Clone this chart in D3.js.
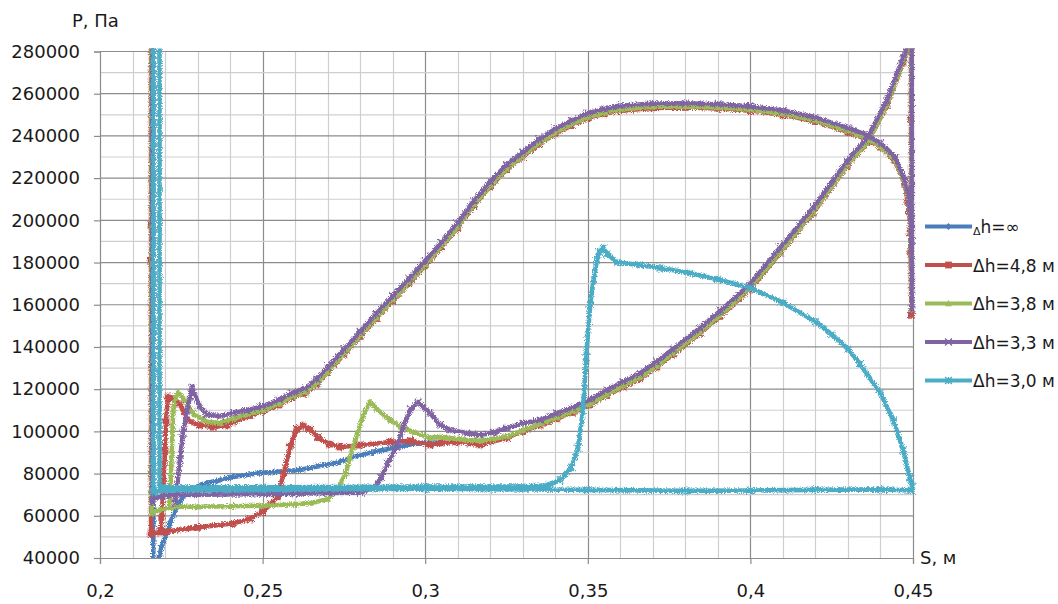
<!DOCTYPE html>
<html>
<head>
<meta charset="utf-8">
<script src="https://cdn.jsdelivr.net/npm/d3@7"></script>
<style>
  html, body { margin: 0; padding: 0; background: #fff; }
  svg { display: block; font-family: "DejaVu Sans", sans-serif; }
</style>
</head>
<body>
<svg id="chart" width="1058" height="604"></svg>
<script>
// Pressure P (Pa) versus piston travel S (m) for several head differences Δh.
// Each series is a list of [S, P] readings taken along the stroke.

const seriesNames = ["\u0394h=\u221e", "\u0394h=4,8 \u043c", "\u0394h=3,8 \u043c", "\u0394h=3,3 \u043c", "\u0394h=3,0 \u043c"];

const xTicks = [0.2, 0.25, 0.3, 0.35, 0.4, 0.45];
const xTickLabels = ["0,2", "0,25", "0,3", "0,35", "0,4", "0,45"];
const yTicks = [40000, 60000, 80000, 100000, 120000, 140000, 160000, 180000, 200000, 220000, 240000, 260000, 280000];

const dhInf = [
  [0.2164, 300000], [0.2164, 36000], [0.2178, 37000], [0.2183, 41000], [0.219, 46000],
  [0.2205, 52000], [0.2215, 56600], [0.2237, 64200], [0.2268, 72200], [0.2329, 75500],
  [0.2409, 78400], [0.2492, 80300], [0.2615, 81700], [0.2738, 85500], [0.2769, 87500],
  [0.284, 90200], [0.2943, 93600], [0.2994, 94500], [0.305, 94800]
];

const dh48 = [
  [0.2157, 300000], [0.2157, 197800], [0.2157, 181200], [0.2157, 51500],
  [0.2185, 52300], [0.2206, 52500], [0.23, 54500], [0.241, 56400], [0.246, 58500],
  [0.25, 62000], [0.2525, 65500], [0.2545, 69000], [0.2565, 80000], [0.2585, 93000],
  [0.2605, 101000], [0.2625, 102500], [0.2645, 101000], [0.267, 97000], [0.2705, 94000],
  [0.2738, 92600], [0.28, 93500], [0.2892, 95000], [0.2955, 95500], [0.3015, 93600],
  [0.305, 94500], [0.3098, 95000], [0.314, 94500], [0.3168, 93600], [0.3251, 96900],
  [0.33, 100000],
  [0.3353, 103000], [0.3405, 106000], [0.3455, 109000], [0.3507, 112500], [0.3558, 117000],
  [0.3608, 121000], [0.366, 125000], [0.3712, 130500], [0.3762, 136500], [0.3845, 146500],
  [0.3907, 154500], [0.4, 167500], [0.4091, 184500], [0.4193, 203500], [0.4297, 225500],
  [0.4361, 237000], [0.442, 254500], [0.4469, 274500], [0.4485, 282000],
  [0.4494, 282000], [0.4494, 248000], [0.4495, 155000],
  [0.4493, 184500], [0.4491, 194000], [0.4489, 204000], [0.4484, 208500], [0.4475, 217000],
  [0.4445, 228000], [0.44, 234700], [0.4358, 238500], [0.43, 241800], [0.42, 246800],
  [0.41, 250000], [0.40, 252000], [0.39, 253000], [0.38, 253500], [0.37, 253300],
  [0.36, 252000], [0.355, 250500], [0.35, 248500], [0.345, 245000], [0.34, 241000],
  [0.335, 236000], [0.33, 230000], [0.325, 224000], [0.32, 216000], [0.315, 207000],
  [0.31, 196500], [0.305, 187500], [0.30, 178500], [0.295, 170000], [0.29, 162000],
  [0.285, 153500], [0.28, 145000], [0.275, 136500], [0.27, 128000], [0.2667, 122500],
  [0.263, 118000], [0.259, 116000], [0.255, 112500], [0.25, 109500], [0.2461, 107500],
  [0.241, 104500], [0.239, 103000], [0.2348, 102000], [0.2305, 103000], [0.2267, 105400],
  [0.2246, 113000], [0.2225, 115500], [0.2209, 116300], [0.2203, 105000], [0.22, 91000],
  [0.219, 59400], [0.2187, 53000]
];

const dh38 = [
  [0.2159, 300000], [0.2159, 61300], [0.2185, 63000], [0.2225, 64200], [0.23, 64300],
  [0.24, 64500], [0.25, 64800], [0.26, 65500], [0.265, 66000], [0.27, 68000],
  [0.2729, 72200], [0.2755, 80000], [0.2778, 92600], [0.281, 108000], [0.283, 114000],
  [0.2855, 110000], [0.2892, 105400], [0.2925, 102000], [0.2963, 99700], [0.3015, 96900],
  [0.304, 97400], [0.3076, 96800], [0.312, 96000], [0.3168, 95500], [0.321, 96500],
  [0.3251, 97500], [0.33, 100500],
  [0.3353, 103500], [0.3405, 106500], [0.3455, 109500], [0.3507, 113000], [0.3558, 117500],
  [0.3608, 121500], [0.366, 125500], [0.3712, 131000], [0.3762, 137000], [0.3845, 147000],
  [0.3907, 155000], [0.4, 168000], [0.4091, 185000], [0.4193, 204000], [0.4297, 226000],
  [0.4361, 237500], [0.442, 255000], [0.4469, 275000], [0.4486, 283000],
  [0.4495, 283000], [0.4496, 158000], [0.4494, 188000], [0.4489, 208000], [0.4475, 217500],
  [0.4445, 228500], [0.44, 235000], [0.4358, 239000], [0.43, 242300], [0.42, 247300],
  [0.41, 250500], [0.40, 252500], [0.39, 253500], [0.38, 254000], [0.37, 253800],
  [0.36, 252500], [0.355, 251000], [0.35, 249000], [0.345, 245500], [0.34, 241500],
  [0.335, 236500], [0.33, 230500], [0.325, 224500], [0.32, 216500], [0.315, 207500],
  [0.31, 197000], [0.305, 188000], [0.30, 179000], [0.295, 170500], [0.29, 162500],
  [0.285, 154000], [0.28, 145500], [0.275, 137000], [0.27, 128500], [0.2667, 123000],
  [0.263, 118500], [0.259, 116500], [0.255, 113000], [0.25, 110000], [0.245, 108000],
  [0.241, 106000], [0.237, 104000], [0.2329, 104500], [0.229, 108000], [0.226, 115000],
  [0.224, 118500], [0.2232, 116000], [0.2225, 110000], [0.2221, 91000], [0.2215, 67500],
  [0.2212, 64000]
];

const dh33 = [
  [0.2161, 300000], [0.2161, 66500], [0.218, 69000], [0.222, 69800], [0.23, 70000],
  [0.25, 70300], [0.26, 70500], [0.27, 70800], [0.28, 71000], [0.284, 73000],
  [0.2865, 78000], [0.2885, 85000], [0.2912, 92600], [0.2935, 103000], [0.2955, 110500],
  [0.2978, 113900], [0.3015, 108700], [0.3045, 103000], [0.3076, 100700], [0.3128, 99200],
  [0.3168, 98300], [0.321, 99500], [0.3251, 101500], [0.3301, 103800],
  [0.3353, 105400], [0.3405, 108500], [0.3455, 111500], [0.3507, 115000], [0.3558, 119500],
  [0.3608, 123500], [0.366, 127500], [0.3712, 133000], [0.3762, 139000], [0.3845, 149000],
  [0.3907, 157000], [0.4, 170000], [0.4091, 187000], [0.4193, 206000], [0.4297, 228000],
  [0.4361, 239500], [0.442, 257000], [0.4469, 277000], [0.4488, 285000],
  [0.4496, 285000], [0.4497, 158000], [0.4495, 190000], [0.4489, 210000], [0.4475, 219000],
  [0.4445, 230000], [0.44, 236700], [0.4358, 240500], [0.43, 243800], [0.42, 248800],
  [0.41, 252000], [0.40, 254000], [0.39, 255000], [0.38, 255500], [0.37, 255300],
  [0.36, 254300], [0.355, 252800], [0.35, 250800], [0.345, 247300], [0.34, 243300],
  [0.335, 238300], [0.33, 232300], [0.325, 226300], [0.32, 218300], [0.315, 209300],
  [0.31, 198800], [0.305, 189500], [0.30, 180800], [0.295, 172300], [0.29, 164300],
  [0.285, 155800], [0.28, 147300], [0.275, 138800], [0.27, 130300], [0.2667, 124800],
  [0.263, 120300], [0.259, 118200], [0.255, 114800], [0.25, 111800], [0.245, 110000],
  [0.241, 108700], [0.237, 107200], [0.2329, 108000], [0.2305, 112000], [0.2283, 121000],
  [0.2268, 110000], [0.2255, 99200], [0.2246, 86400], [0.2231, 66000]
];

const dh30 = [
  [0.2164, 300000], [0.2164, 71000], [0.217, 71500], [0.22, 72000], [0.25, 72300],
  [0.3, 72800], [0.35, 72300], [0.38, 71800], [0.4, 72000], [0.42, 72300], [0.44, 72500],
  [0.4495, 72000],
  [0.4497, 74000], [0.449, 78000], [0.447, 91000], [0.444, 105000], [0.44, 118000],
  [0.4337, 132000], [0.43, 139000], [0.425, 146000], [0.42, 152000], [0.41, 161000],
  [0.4, 168000], [0.39, 172000], [0.3814, 175000], [0.3722, 177400], [0.366, 178900],
  [0.359, 180000], [0.356, 184000], [0.3548, 186800], [0.3535, 185000], [0.3528, 181000],
  [0.3518, 172000], [0.3507, 160000], [0.3495, 135000], [0.3485, 110000], [0.347, 92000],
  [0.345, 83000], [0.3415, 77000], [0.338, 74500], [0.33, 73800], [0.3, 73800],
  [0.25, 73500], [0.22, 73500], [0.2183, 73500], [0.2183, 300000]
];

const seriesData = [dhInf, dh48, dh38, dh33, dh30];
const colors = ["#4a7ebb", "#c0504d", "#9bbb59", "#8064a2", "#4bacc6"];
const markerShapes = ["diamond", "square", "triangle", "cross", "asterisk"];

const svg = d3.select("#chart");
const plotL = 100, plotR = 913, plotT = 51.5, plotB = 558;

const x = d3.scaleLinear().domain([0.2, 0.45]).range([plotL, plotR]);
const y = d3.scaleLinear().domain([40000, 280000]).range([plotB, plotT]);

// grid: minor every 0.01 / 10000, major every 0.05 / 20000
const grid = svg.append("g");
d3.range(0.21, 0.4501, 0.01).forEach(v => {
  const major = Math.abs(v / 0.05 - Math.round(v / 0.05)) < 1e-6;
  grid.append("line")
    .attr("x1", Math.round(x(v)) + 0.5).attr("x2", Math.round(x(v)) + 0.5)
    .attr("y1", plotT).attr("y2", plotB)
    .attr("stroke", major ? "#8c8c8c" : "#cfcfcf").attr("stroke-width", 1.2);
});
d3.range(50000, 280001, 10000).forEach(v => {
  const major = v % 20000 === 0;
  grid.append("line")
    .attr("x1", plotL).attr("x2", plotR)
    .attr("y1", y(v)).attr("y2", y(v))
    .attr("stroke", major ? "#8c8c8c" : "#cfcfcf").attr("stroke-width", 1.2);
});

// axes
const yAxis = d3.axisLeft(y).tickValues(yTicks).tickSize(6).tickPadding(14)
  .tickFormat(d => String(d));
const gy = svg.append("g").attr("transform", `translate(${plotL},0)`).call(yAxis);
gy.select(".domain").attr("stroke", "#8c8c8c").attr("stroke-width", 1.2);
gy.selectAll(".tick line").attr("stroke", "#8c8c8c").attr("stroke-width", 1.2);
gy.selectAll(".tick text").attr("font-size", 18).attr("fill", "#1a1a1a")
  .attr("font-family", "DejaVu Sans, sans-serif");

const xAxis = d3.axisBottom(x).tickValues(xTicks).tickSize(6).tickPadding(20)
  .tickFormat((d, i) => xTickLabels[i]);
const gx = svg.append("g").attr("transform", `translate(0,${plotB})`).call(xAxis);
gx.select(".domain").attr("stroke", "#8c8c8c").attr("stroke-width", 1.2);
gx.selectAll(".tick line").attr("stroke", "#8c8c8c").attr("stroke-width", 1.2);
gx.selectAll(".tick text").attr("font-size", 18).attr("fill", "#1a1a1a")
  .attr("font-family", "DejaVu Sans, sans-serif");

// axis titles
svg.append("text").attr("x", 72).attr("y", 27).attr("font-size", 18).attr("fill", "#1a1a1a")
  .text("P, \u041f\u0430");
svg.append("text").attr("x", 920).attr("y", 564).attr("font-size", 18).attr("fill", "#1a1a1a")
  .text("S, \u043c");

// marker drawing
function marker(g, shape, color, cx, cy) {
  const s = 3.4;
  if (shape === "diamond") {
    g.append("path").attr("d", `M${cx},${cy - s}L${cx + s},${cy}L${cx},${cy + s}L${cx - s},${cy}Z`).attr("fill", color);
  } else if (shape === "square") {
    g.append("rect").attr("x", cx - s).attr("y", cy - s).attr("width", 2 * s).attr("height", 2 * s).attr("fill", color);
  } else if (shape === "triangle") {
    g.append("path").attr("d", `M${cx},${cy - s}L${cx + s},${cy + s * 0.8}L${cx - s},${cy + s * 0.8}Z`).attr("fill", color);
  } else if (shape === "cross") {
    g.append("path").attr("d", `M${cx - s},${cy - s}L${cx + s},${cy + s}M${cx - s},${cy + s}L${cx + s},${cy - s}`)
      .attr("stroke", color).attr("stroke-width", 1.4);
  } else {
    g.append("path").attr("d", `M${cx - s},${cy - s}L${cx + s},${cy + s}M${cx - s},${cy + s}L${cx + s},${cy - s}M${cx},${cy - s}L${cx},${cy + s}`)
      .attr("stroke", color).attr("stroke-width", 1.4);
  }
}

// plot clip
svg.append("clipPath").attr("id", "plotClip").append("rect")
  .attr("x", plotL - 4).attr("y", plotT - 3).attr("width", plotR - plotL + 8).attr("height", plotB - plotT + 3);

// roughness on the traces, like a dense noisy recording
const defs = svg.append("defs");
const f = defs.append("filter").attr("id", "rough").attr("x", "-2%").attr("y", "-2%").attr("width", "104%").attr("height", "104%");
f.append("feTurbulence").attr("type", "fractalNoise").attr("baseFrequency", 1.1).attr("numOctaves", 2).attr("seed", 3).attr("result", "n");
f.append("feDisplacementMap").attr("in", "SourceGraphic").attr("in2", "n").attr("scale", 5)
  .attr("xChannelSelector", "R").attr("yChannelSelector", "G");

const line = d3.line().x(d => x(d[0])).y(d => y(d[1]));
const plot = svg.append("g").attr("clip-path", "url(#plotClip)");

seriesData.forEach((data, i) => {
  const g = plot.append("g").attr("filter", "url(#rough)");
  g.append("path").datum(data).attr("d", line)
    .attr("fill", "none").attr("stroke", colors[i]).attr("stroke-width", 4.6)
    .attr("stroke-linejoin", "round");
  const mg = g.append("g");
  data.forEach(d => marker(mg, markerShapes[i], colors[i], x(d[0]), y(d[1])));
});

// legend
const legend = svg.append("g");
seriesNames.forEach((name, i) => {
  const ly = 226.5 + i * 38.5;
  legend.append("line").attr("x1", 925).attr("x2", 972).attr("y1", ly).attr("y2", ly)
    .attr("stroke", colors[i]).attr("stroke-width", 4);
  marker(legend, markerShapes[i], colors[i], 948.5, ly);
  const t = legend.append("text").attr("x", 973).attr("y", ly + 6.5).attr("font-size", 17).attr("fill", "#1a1a1a");
  if (i === 0) {
    t.append("tspan").attr("font-size", 11).attr("dy", 2).text("\u0394");
    t.append("tspan").attr("dy", -2).text("h=\u221e");
  } else {
    t.text(name);
  }
});
</script>
</body>
</html>
